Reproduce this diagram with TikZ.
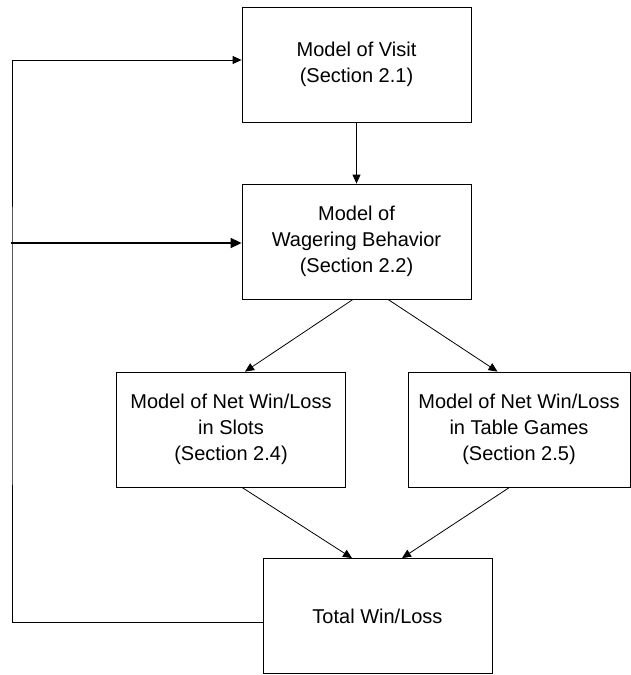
\documentclass[tikz,border=0pt]{standalone}
\usepackage{fontspec}
\setmainfont{Liberation Sans}
\usetikzlibrary{arrows.meta}

\begin{document}
\begin{tikzpicture}[x=1pt,y=-1pt,
    block/.style ={rectangle, draw, line width=0.8pt, align=center,
                   minimum width=229pt, minimum height=115pt, inner sep=0pt,
                   font=\fontsize{20}{26}\selectfont},
    link/.style ={line width=0.8pt, -{Triangle[length=9pt,width=8pt]}},
    feed/.style ={line width=1.6pt, -{Triangle[length=11pt,width=10pt]}}]
   \useasboundingbox (0,0) rectangle (631,675);

   \node[block] (visit)  at (356.5,64.5)  {Model of Visit\\(Section 2.1)};
   \node[block] (wager)  at (356.5,241.5) {Model of\\Wagering Behavior\\(Section 2.2)};
   \node[block] (slots)  at (231,429.5)   {Model of Net Win/Loss\\in Slots\\(Section 2.4)};
   \node[block,minimum width=222pt] (table) at (519,429.5) {Model of Net Win/Loss\\in Table Games\\(Section 2.5)};
   \node[block] (total)  at (377.5,616)   {Total Win/Loss};

   \coordinate (loop) at (12,350);
   \coordinate (in)   at (11,243);

   \draw[link] (visit) to (wager);
   \draw[link] ([xshift=-3.5pt]wager.south) to ([xshift=14pt]slots.north);
   \draw[link] ([xshift=31.5pt]wager.south) to ([xshift=-21.5pt]table.north);
   \draw[link] ([xshift=11pt]slots.south) to ([xshift=-25.5pt]total.north);
   \draw[link] ([xshift=-9.5pt]table.south) to ([xshift=24.5pt]total.north);
   \draw[link] ([yshift=-6pt]total.west) -| (loop) |- ([yshift=4.5pt]visit.west);
   \draw[feed] (in) -- (in -| wager.west);
\end{tikzpicture}
\end{document}
